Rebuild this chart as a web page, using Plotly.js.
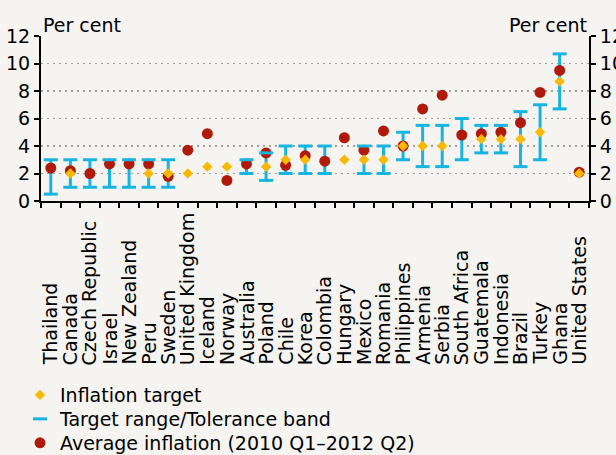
<!DOCTYPE html>
<html>
<head>
<meta charset="utf-8">
<script src="https://cdn.plot.ly/plotly-3.0.1.min.js"></script>
<style>html,body{margin:0;padding:0;background:#f5f4f1;}#chart{width:616px;height:455px;}</style>
</head>
<body>
<div id="chart"></div>
<script>
const countries = ['Thailand','Canada','Czech Republic','Israel','New Zealand','Peru','Sweden','United Kingdom','Iceland','Norway','Australia','Poland','Chile','Korea','Colombia','Hungary','Mexico','Romania','Philippines','Armenia','Serbia','South Africa','Guatemala','Indonesia','Brazil','Turkey','Ghana','United States'];
const inflationTarget = [null,2,null,null,null,2,2,2,2.5,2.5,null,2.5,3,3,null,3,3,3,4,4,4,null,4.5,4.5,4.5,5,8.7,2];
const rangeLow  = [0.5,1,1,1,1,1,1,null,null,null,2,1.5,2,2,2,null,2,2,3,2.5,2.5,3,3.5,3.5,2.5,3,6.7,null];
const rangeHigh = [3,3,3,3,3,3,3,null,null,null,3,3.5,4,4,4,null,4,4,5,5.5,5.5,6,5.5,5.5,6.5,7,10.7,null];
const avgInflation = [2.4,2.2,2.0,2.7,2.7,2.7,1.8,3.7,4.9,1.5,2.7,3.5,2.6,3.3,2.9,4.6,3.7,5.1,4.0,6.7,7.7,4.8,4.9,5.0,5.7,7.9,9.5,2.1];
const yTicks = [0,2,4,6,8,10,12];

const FONT = 'DejaVu Sans, Verdana, sans-serif';
const CYAN = '#18b4e0', RED = '#b01a0a', GOLD = '#fbb800';
const FS = 19;

const bandSpan = rangeHigh.map((h,i)=> (h==null||rangeLow[i]==null)?null:h-rangeLow[i]);
const capX = countries.concat(countries);
const capY = rangeLow.concat(rangeHigh);

const traces = [
  { // vertical band lines
    type:'scatter', mode:'markers', x:countries, y:rangeLow, showlegend:false, hoverinfo:'skip',
    marker:{size:1, opacity:0, color:CYAN},
    error_y:{type:'data', symmetric:false, array:bandSpan, arrayminus:bandSpan.map(v=>v==null?null:0), color:CYAN, thickness:3, width:0}
  },
  {
    type:'scatter', mode:'markers', name:'Average inflation (2010 Q1\u20132012 Q2)', x:countries, y:avgInflation,
    marker:{symbol:'circle', size:11, color:RED}, legend:'legend3'
  },
  {
    type:'scatter', mode:'markers', name:'Target range/Tolerance band', x:capX, y:capY,
    marker:{symbol:'line-ew', size:10, color:CYAN, line:{color:CYAN, width:3}}, legend:'legend2'
  },
  {
    type:'scatter', mode:'markers', name:'Inflation target', x:countries, y:inflationTarget,
    marker:{symbol:'diamond', size:8, color:GOLD}, legend:'legend'
  },
  { // right axis carrier
    type:'scatter', mode:'markers', x:countries, y:avgInflation, yaxis:'y2', showlegend:false, hoverinfo:'skip',
    marker:{opacity:0, size:1}
  }
];

const yCommon = {
  range:[0,12], tickvals:yTicks, ticktext:yTicks.map(String), showline:true, linecolor:'#000', linewidth:2,
  ticks:'outside', ticklen:5, tickwidth:2, tickcolor:'#000', zeroline:false,
  tickfont:{family:FONT, size:FS, color:'#000'}, fixedrange:true
};

function leg(yPix){
  return {x:(20-41)/548, xanchor:'left', yref:'container', y:1-yPix/455, yanchor:'middle',
    bgcolor:'rgba(0,0,0,0)', font:{family:FONT, size:FS, color:'#000'}};
}

const labelAnnots = countries.map(c=>({
  xref:'x', yref:'paper', x:c, y:(201-367)/165, xanchor:'center', yanchor:'bottom', textangle:-90,
  text:c, showarrow:false, font:{family:FONT, size:FS, color:'#000'}
}));

const layout = {
  width:616, height:455,
  margin:{l:41, r:27, t:36, b:254},
  paper_bgcolor:'#f5f4f1', plot_bgcolor:'#f5f4f1',
  font:{family:FONT, color:'#000'},
  xaxis:{
    type:'category', range:[-0.5,27.5], tickson:'boundaries', ticks:'outside', ticklen:5, tickwidth:2, tickcolor:'#000',
    showline:true, linecolor:'#000', linewidth:2, showgrid:false, showticklabels:false
  },
  yaxis: Object.assign({}, yCommon, {showgrid:true, gridcolor:'#a0a0a0', griddash:'2px,4px', gridwidth:1.5}),
  yaxis2: Object.assign({}, yCommon, {overlaying:'y', side:'right', showgrid:false}),
  showlegend:true,
  legend: leg(395),
  legend2: leg(419),
  legend3: leg(443),
  annotations:[
    {xref:'paper', yref:'paper', x:0, y:1, xanchor:'left', yanchor:'bottom', yshift:-2, text:'Per cent', showarrow:false, font:{family:FONT, size:FS, color:'#000'}},
    {xref:'paper', yref:'paper', x:1, y:1, xanchor:'right', yanchor:'bottom', yshift:-2, text:'Per cent', showarrow:false, font:{family:FONT, size:FS, color:'#000'}}
  ].concat(labelAnnots)
};

Plotly.newPlot('chart', traces, layout, {displayModeBar:false, staticPlot:true});
</script>
</body>
</html>
